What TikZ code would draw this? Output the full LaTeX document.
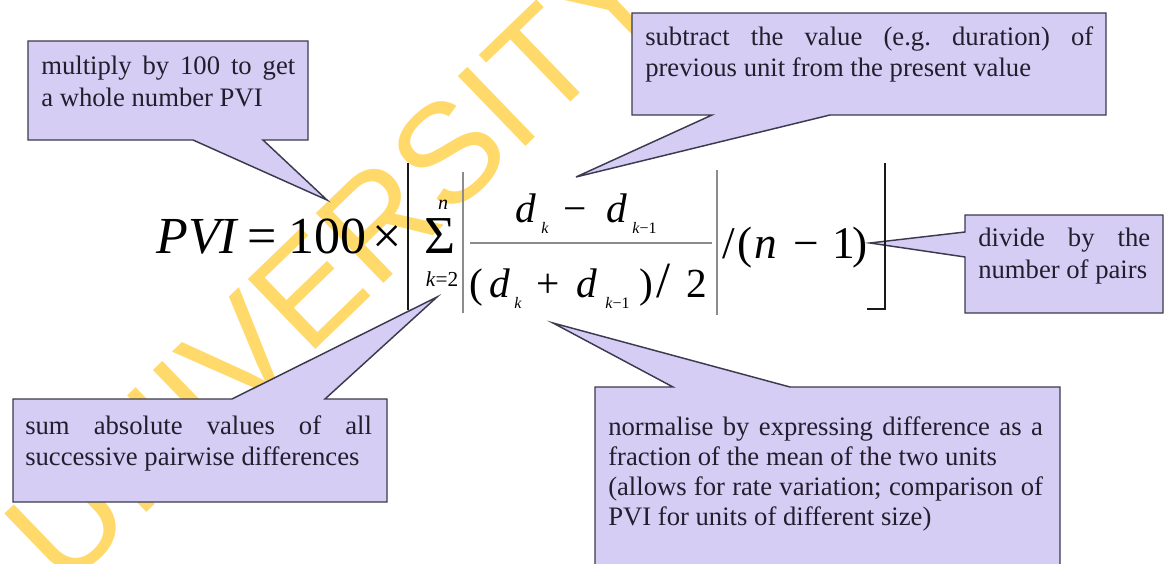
\documentclass[tikz,border=0pt]{standalone}
\usepackage{fontspec}
\setmainfont{Liberation Serif}
\newfontfamily\wmfont{Liberation Sans}
\usepackage{tikz}
\usetikzlibrary{positioning}

\definecolor{callfill}{RGB}{214,205,245}
\definecolor{callline}{RGB}{60,58,78}
\definecolor{notetext}{RGB}{35,30,45}
\definecolor{wmyellow}{RGB}{255,217,105}

\tikzset{
  calloutbox/.style={fill=callfill, draw=callline, line width=1.1pt, line join=miter},
  notetxt/.style={anchor=north west, inner sep=0pt, align=left, text=notetext,
    font=\fontsize{20}{23.5}\selectfont},
  glyph/.style={anchor=base west, inner sep=0pt},
  bigbracket/.style={line width=1.5pt, black!90},
  thinbar/.style={line width=0.9pt, black!45},
}
\newcommand{\fs}[1]{\fontsize{#1}{#1}\selectfont}

\begin{document}
\begin{tikzpicture}[x=0.75pt, y=-0.75pt]
  \useasboundingbox (0,0) rectangle (1165,564);
  \fill[white] (0,0) rectangle (1165,564);

  % === Watermark ===
  \node[rotate=44, inner sep=0pt, text=wmyellow, font=\wmfont\fs{106}] (wmark)
    at (336,262) {UNIVERSITY};

  % === Callouts ===
  \coordinate (tipmul) at (327,200);
  \coordinate (tipsub) at (576,177);
  \coordinate (tipdiv) at (870,243);
  \coordinate (tipsum) at (437,297);
  \coordinate (tipnorm) at (553,323);
  % multiply
  \draw[calloutbox] (28,41) -- (308,41) -- (308,140) -- (263,140)
    -- (tipmul) -- (193,140) -- (28,140) -- cycle;
  \node[notetxt] (mulnote) at (41,56)
    {\makebox[190.5pt][s]{multiply by 100 to get}\\a whole number PVI};
  % subtract
  \draw[calloutbox] (632,13) -- (1106,13) -- (1106,115) -- (830,115)
    -- (tipsub) -- (712,115) -- (632,115) -- cycle;
  \node[notetxt] (subnote) at (645,26)
    {\makebox[336pt][s]{subtract the value (e.g.\ duration) of}\\previous unit from the present value};
  % divide
  \draw[calloutbox] (965,215) -- (1163,215) -- (1163,313) -- (965,313)
    -- (965,257) -- (tipdiv) -- (965,232) -- cycle;
  \node[notetxt] (divnote) at (978,228)
    {\makebox[129pt][s]{divide by the}\\number of pairs};
  % sum
  \draw[calloutbox] (13,399) -- (232,399) -- (tipsum) -- (325,399)
    -- (387,399) -- (387,502) -- (13,502) -- cycle;
  \node[notetxt] (sumnote) at (25,415)
    {\makebox[260pt][s]{sum absolute values of all}\\successive pairwise differences};
  % normalise
  \draw[calloutbox] (595,387) -- (673,387) -- (tipnorm) -- (790,387)
    -- (1060,387) -- (1060,580) -- (595,580) -- cycle;
  \node[notetxt, font=\fontsize{20}{22.5}\selectfont] (normnote) at (608,416)
    {\makebox[326pt][s]{normalise by expressing difference as a}\\
     fraction of the mean of the two units\\
     \makebox[326pt][s]{(allows for rate variation; comparison of}\\
     PVI for units of different size)};

  % === Formula ===
  \node[glyph, font=\fs{39}] (pvi) at (156,253) {\textit{PVI}};
  \node[glyph, font=\fs{39}] (eqsign) at (247,253) {=};
  \node[glyph, font=\fs{39}] (hundred) at (288,253) {100};
  \node[glyph, font=\fs{39}] (timessign) at (372,253) {×};
  % outer bracket
  \draw[bigbracket] (408,163) -- (408,310);
  \draw[bigbracket] (885,163) -- (885,309) -- (867,309);
  % sum with limits
  \node[anchor=base, inner sep=0pt, font=\fs{40}] (sigma) at (440,253) {Σ};
  \node[inner sep=0pt, font=\fs{15}] (sumtop) at (443,205) {\textit{n}};
  \node[inner sep=0pt, font=\fs{16}] (sumbot) at (442,279) {\textit{k}=2};
  % absolute value bars and fraction line
  \draw[thinbar] (463,172) -- (463,313);
  \draw[thinbar] (717,170) -- (717,315);
  \draw[thinbar] (470,243) -- (712,243);
  % numerator
  \node[glyph, font=\fs{31}] (numda) at (515,222) {\textit{d}};
  \node[glyph, font=\fs{12}] (numka) at (541,233) {\textit{k}};
  \node[glyph, font=\fs{31}] (numminus) at (563,222) {−};
  \node[glyph, font=\fs{31}] (numdb) at (606,222) {\textit{d}};
  \node[glyph, font=\fs{12}] (numkb) at (632,233) {\textit{k}−1};
  % denominator
  \node[glyph, font=\fs{31}] (denlp) at (469,297) {(};
  \node[glyph, font=\fs{31}] (denda) at (489,297) {\textit{d}};
  \node[glyph, font=\fs{12}] (denka) at (514,308) {\textit{k}};
  \node[glyph, font=\fs{31}] (denplus) at (536,297) {+};
  \node[glyph, font=\fs{31}] (dendb) at (576,297) {\textit{d}};
  \node[glyph, font=\fs{12}] (denkb) at (605,308) {\textit{k}−1};
  \node[glyph, font=\fs{31}] (denrp) at (639,297) {)};
  \node[glyph, font=\fs{38}] (denslash) at (656,297) {/};
  \node[glyph, font=\fs{31}] (dentwo) at (686,297) {2};
  % divide by n-1
  \node[glyph, font=\fs{34}] (tailslash) at (722,258) {/};
  \node[glyph, font=\fs{34}] (taillp) at (737,258) {(};
  \node[glyph, font=\fs{34}] (tailn) at (754,258) {\textit{n}};
  \node[glyph, font=\fs{34}] (tailminus) at (793,258) {−};
  \node[glyph, font=\fs{34}] (tailone) at (832,258) {1};
  \node[glyph, font=\fs{34}] (tailrp) at (852,258) {)};
\end{tikzpicture}
\end{document}
